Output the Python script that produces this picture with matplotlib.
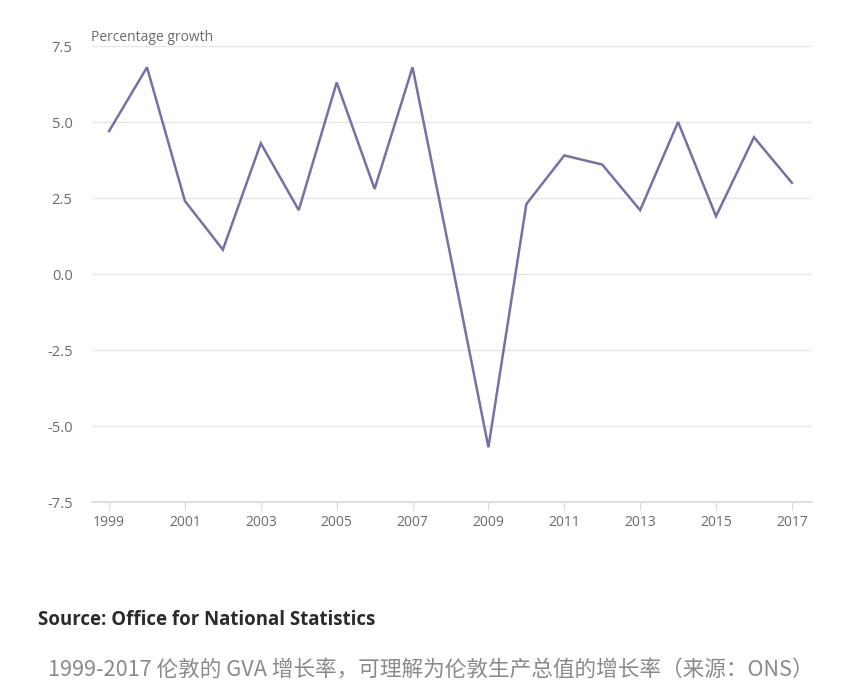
import matplotlib
matplotlib.use("Agg")
import matplotlib.pyplot as plt

years = list(range(1999, 2018))
growth = [4.7, 6.8, 2.4, 0.8, 4.3, 2.1, 6.3, 2.8, 6.8, 0.6,
          -5.7, 2.3, 3.9, 3.6, 2.1, 5.0, 1.9, 4.5, 3.0]
y_ticks = [-7.5, -5.0, -2.5, 0.0, 2.5, 5.0, 7.5]
x_ticks = list(range(1999, 2018, 2))

LINE = "#7670a6"
GRID = "#e6e6e6"
TXT = "#6b6b6b"

plt.rcParams["font.family"] = ["Open Sans", "DejaVu Sans"]

fig = plt.figure(figsize=(8.49, 6.91), dpi=100)
ax = fig.add_axes([92 / 849, 1 - 502 / 691, 720 / 849, 456 / 691])

ax.plot(years, growth, color=LINE, lw=1.8, solid_joinstyle="miter")
ax.set_xlim(1998.55, 2017.53)
ax.set_ylim(-7.5, 7.5)
ax.set_yticks(y_ticks)
ax.set_yticklabels([f"{v:.1f}" for v in y_ticks])
ax.set_xticks(x_ticks)
ax.grid(axis="y", color=GRID, lw=1)
ax.set_axisbelow(True)
for s in ["top", "right", "left"]:
    ax.spines[s].set_visible(False)
ax.spines["bottom"].set_color("#d9d9d9")
ax.spines["bottom"].set_linewidth(1.2)
ax.tick_params(axis="y", length=0, pad=14, labelsize=10.5, labelcolor=TXT)
ax.tick_params(axis="x", length=6, color="#d9d9d9", pad=3, labelsize=10, labelcolor=TXT)

ax.text(-0.002, 1.002, "Percentage growth", transform=ax.transAxes, fontsize=10,
        color=TXT, ha="left", va="bottom")

fig.text(38 / 849, 1 - 620 / 691, "Source: Office for National Statistics",
         fontsize=13.4, fontweight="bold", color="#2b2b2b", ha="left", va="center")
fig.text(48 / 849, 1 - 670 / 691,
         "1999-2017 伦敦的 GVA 增长率，可理解为伦敦生产总值的增长率（来源：ONS）",
         fontsize=15.6, color="#8a8a8a", ha="left", va="center",
         family=["Noto Sans CJK SC", "DejaVu Sans"], fontweight="light")

fig.savefig("out.png", dpi=100, facecolor="white")
